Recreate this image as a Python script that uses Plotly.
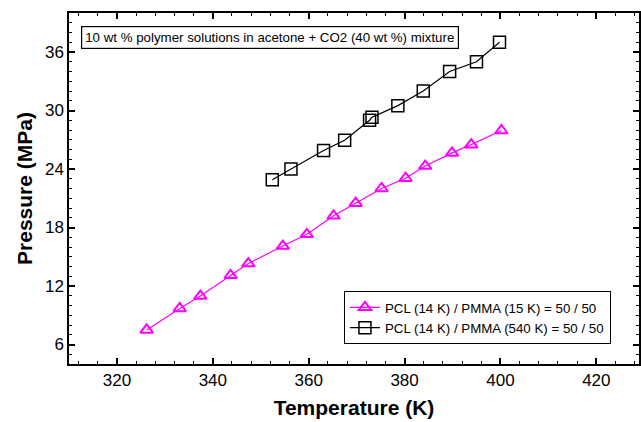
import plotly.graph_objects as go

# Data
T_pmma15 = [326.2, 333.1, 337.4, 343.7, 347.4, 354.6, 359.6, 365.2, 369.8, 375.2,
            380.2, 384.3, 389.9, 393.9, 400.2]
P_pmma15 = [7.5, 9.7, 10.97, 13.1, 14.3, 16.1, 17.3, 19.2, 20.5, 22.0,
            23.05, 24.3, 25.65, 26.5, 27.95]

T_pmma540 = [352.4, 356.3, 363.1, 367.5, 372.7, 373.2, 378.6, 383.9, 389.4, 395.0, 399.8]
P_pmma540 = [22.9, 24.0, 25.9, 26.95, 29.0, 29.3, 30.5, 32.0, 34.0, 35.0, 37.0]

label_15 = "PCL (14 K) / PMMA (15 K) = 50 / 50"
label_540 = "PCL (14 K) / PMMA (540 K) = 50 / 50"
note = "10 wt % polymer solutions in acetone + CO2 (40 wt %) mixture"

x_ticks = [320, 340, 360, 380, 400, 420]
y_ticks = [6, 12, 18, 24, 30, 36]

FONT = "Liberation Sans, Arial"

fig = go.Figure()
fig.add_trace(go.Scatter(
    x=T_pmma15, y=P_pmma15, mode="lines+markers", name=label_15,
    line=dict(color="#ff00ff", width=1.2),
    marker=dict(symbol="triangle-up-open", size=11, color="#ff00ff",
                line=dict(width=2, color="#ff00ff")),
))
fig.add_trace(go.Scatter(
    x=T_pmma540, y=P_pmma540, mode="lines+markers", name=label_540,
    line=dict(color="black", width=1.2),
    marker=dict(symbol="square-open", size=12, color="black",
                line=dict(width=1.5, color="black")),
))

axis_common = dict(
    showline=True, linecolor="black", linewidth=1.5, mirror="ticks",
    ticks="inside", ticklen=6, tickwidth=1.5, tickcolor="black",
    showgrid=False, zeroline=False,
    tickfont=dict(family=FONT, size=17, color="black"),
)

fig.update_xaxes(
    range=[310, 428.9], tickvals=x_ticks,
    title=dict(text="<b>Temperature (K)</b>",
               font=dict(family=FONT, size=21, color="black"),
               standoff=11),
    minor=dict(dtick=4, tick0=320, ticks="inside", ticklen=3, tickwidth=1.2,
               tickcolor="black", showgrid=False),
    **axis_common,
)
fig.update_yaxes(
    range=[4, 40], tickvals=y_ticks,
    title=dict(text="<b>Pressure (MPa)</b>",
               font=dict(family=FONT, size=21, color="black"),
               standoff=7),
    minor=dict(dtick=1, tick0=0, ticks="inside", ticklen=3, tickwidth=1.2,
               tickcolor="black", showgrid=False),
    **axis_common,
)

fig.add_annotation(
    text=note, xref="paper", yref="paper", x=0.0215, y=0.962,
    xanchor="left", yanchor="top", showarrow=False,
    font=dict(family=FONT, size=13.3, color="black"),
    bordercolor="black", borderwidth=1.2, borderpad=3, bgcolor="white",
)

fig.update_layout(
    width=641, height=422,
    margin=dict(l=69, r=0, t=13, b=58),
    paper_bgcolor="white", plot_bgcolor="white",
    showlegend=True,
    legend=dict(
        x=0.482, y=0.208, xanchor="left", yanchor="top",
        bordercolor="black", borderwidth=1.2, bgcolor="white",
        font=dict(family=FONT, size=13.3, color="black"),
        itemwidth=30, tracegroupgap=0,
    ),
)

fig.write_html("out.html")
